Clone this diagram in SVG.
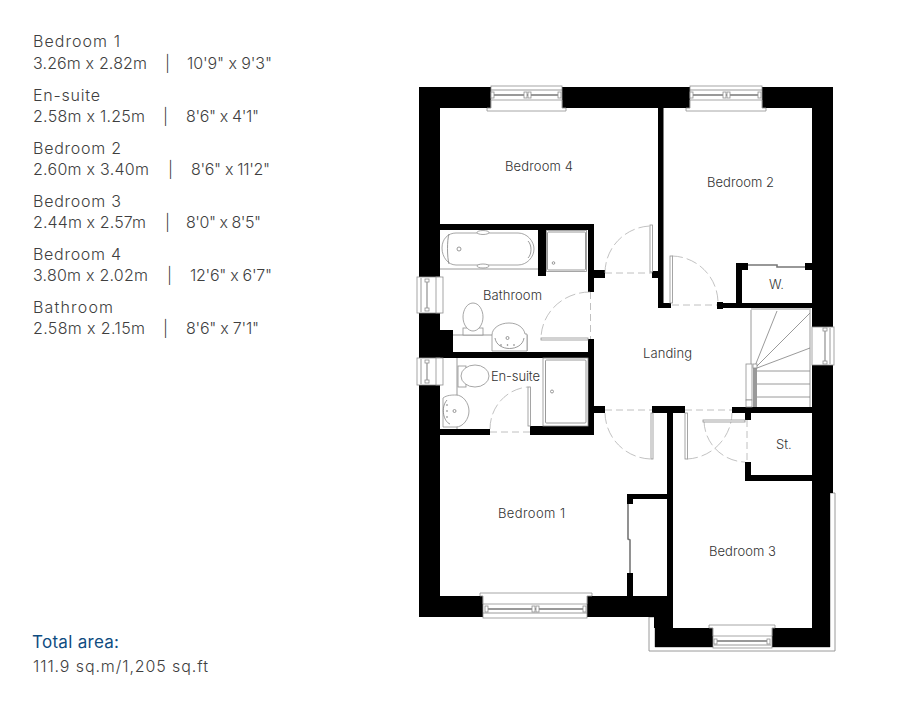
<svg xmlns="http://www.w3.org/2000/svg" width="899" height="704" viewBox="0 0 899 704">
<style>
text{font-family:"Inter","Open Sans","Liberation Sans",sans-serif;fill:#4a4a4a}
.s{font-size:16px;font-weight:300;fill:#3f3f3f}
.r{font-size:13px;fill:#333;font-weight:300}
.w{fill:#000;stroke:none}
.l{fill:#fff;stroke:#8f8f8f;stroke-width:.8}
.t{fill:none;stroke:#808080;stroke-width:.8}
.d{fill:none;stroke:#b0b0b0;stroke-width:.8;stroke-dasharray:7 4}
.a{fill:none;stroke:#a8a8a8;stroke-width:.7;stroke-dasharray:11 4}
.g{fill:#fff;stroke:#8f8f8f;stroke-width:.9}
.b{stroke:#777;stroke-width:1.600;fill:none}
</style>
<rect width="899" height="704" fill="#fff"/>
<g id="schedule">
<text class="s" x="33" y="47" textLength="87">Bedroom 1</text>
<text class="s" x="33" y="69" textLength="114">3.26m x 2.82m</text><text class="s" x="165" y="69">|</text><text class="s" x="187" y="69" textLength="85">10'9" x 9'3"</text>
<text class="s" x="33" y="101" textLength="67">En-suite</text>
<text class="s" x="33" y="122" textLength="112">2.58m x 1.25m</text><text class="s" x="163" y="122">|</text><text class="s" x="186" y="122" textLength="73">8'6" x 4'1"</text>
<text class="s" x="33" y="154" textLength="88">Bedroom 2</text>
<text class="s" x="33" y="175" textLength="116">2.60m x 3.40m</text><text class="s" x="168" y="175">|</text><text class="s" x="191" y="175" textLength="79">8'6" x 11'2"</text>
<text class="s" x="33" y="207" textLength="88">Bedroom 3</text>
<text class="s" x="33" y="228" textLength="113">2.44m x 2.57m</text><text class="s" x="165" y="228">|</text><text class="s" x="186" y="228" textLength="75">8'0" x 8'5"</text>
<text class="s" x="33" y="260" textLength="88">Bedroom 4</text>
<text class="s" x="33" y="281" textLength="115">3.80m x 2.02m</text><text class="s" x="167" y="281">|</text><text class="s" x="190" y="281" textLength="82">12'6" x 6'7"</text>
<text class="s" x="33" y="313" textLength="80">Bathroom</text>
<text class="s" x="33" y="334" textLength="112">2.58m x 2.15m</text><text class="s" x="163" y="334">|</text><text class="s" x="186" y="334" textLength="73">8'6" x 7'1"</text>
<text x="32" y="648" font-size="17" font-weight="400" style="fill:#0f4c81" textLength="87">Total area:</text>
<text class="s" x="33" y="672" textLength="175">111.9 sq.m/1,205 sq.ft</text>
</g>
<g id="walls">
<path class="g" d="M649 617V651H835V493H830V647H655V617Z"/>
<rect class="w" x="419" y="87" width="414" height="21"/>
<rect class="w" x="419" y="87" width="21" height="530"/>
<rect class="w" x="812" y="87" width="21" height="406"/>
<rect class="w" x="812" y="493" width="18" height="154"/>
<rect class="w" x="419" y="596" width="248" height="21"/>
<rect class="w" x="654" y="596" width="19" height="32"/>
<rect class="w" x="655" y="628" width="175" height="19"/>
<rect class="w" x="667" y="406" width="6" height="222"/>
<rect class="w" x="658" y="108" width="5.500" height="200"/>
<rect class="w" x="658" y="303" width="13" height="5"/>
<rect class="w" x="440" y="224" width="154" height="6"/>
<rect class="w" x="588" y="224" width="6" height="68"/>
<rect class="w" x="594" y="270" width="11" height="8"/>
<rect class="w" x="538" y="230" width="8" height="46"/>
<rect class="w" x="440" y="330" width="13" height="28"/>
<rect class="w" x="453" y="352" width="141" height="6"/>
<rect class="w" x="588" y="339" width="6" height="96"/>
<rect class="w" x="440" y="429" width="50" height="6"/>
<rect class="w" x="530" y="426" width="64" height="9"/>
<rect class="w" x="594" y="406" width="11" height="7"/>
<rect class="w" x="652" y="406" width="33" height="7"/>
<rect class="w" x="652" y="271" width="6" height="7"/>
<rect class="w" x="627" y="494" width="40" height="5"/>
<rect class="w" x="627" y="494" width="6" height="10"/>
<rect class="w" x="627" y="573" width="6" height="24"/>
<rect class="w" x="736" y="263" width="6" height="40"/>
<rect class="w" x="742" y="263" width="6" height="7"/>
<rect class="w" x="805" y="263" width="7" height="7"/>
<rect class="w" x="720" y="303" width="92" height="5"/>
<rect class="w" x="732" y="407" width="80" height="6"/>
<rect class="w" x="745" y="413" width="6" height="7"/>
<rect class="w" x="745" y="462" width="6" height="19"/>
<rect class="w" x="745" y="475" width="67" height="6"/>
<rect class="w" x="717" y="302" width="6" height="7"/>
</g>
<g id="windows">
<rect class="l" x="491" y="86" width="71" height="22"/><rect x="491.500" y="99" width="70" height="12" fill="#fff"/><path class="l" d="M487 108H491V100H562V108H566V111H487Z"/><path d="M493 95H560" stroke="#777" stroke-width="1.600"/><path class="t" d="M491 90H562"/>
<rect class="l" x="491" y="92" width="3" height="6"/><rect class="l" x="524" y="92" width="3" height="6"/><rect class="l" x="528" y="92" width="3" height="6"/><rect class="l" x="558" y="92" width="3" height="6"/>
<rect class="l" x="690" y="86" width="72" height="22"/><rect x="690.500" y="99" width="71" height="12" fill="#fff"/><path class="l" d="M686 108H690V100H762V108H766V111H686Z"/><path d="M692 95H760" stroke="#777" stroke-width="1.600"/><path class="t" d="M690 90H762"/>
<rect class="l" x="690" y="92" width="3" height="6"/><rect class="l" x="723" y="92" width="3" height="6"/><rect class="l" x="727" y="92" width="3" height="6"/><rect class="l" x="758" y="92" width="3" height="6"/>
<rect class="l" x="417" y="277" width="23" height="36"/><rect class="l" x="436" y="277" width="7" height="36"/><path d="M427 281V309" stroke="#999" stroke-width="1.300"/><path class="t" d="M421 278V312"/><rect class="l" x="425" y="279" width="4" height="3"/><rect class="l" x="425" y="308" width="4" height="3"/>
<rect class="l" x="417" y="358" width="23" height="27"/><rect class="l" x="436" y="358" width="7" height="27"/><path d="M427 362V381" stroke="#999" stroke-width="1.300"/><path class="t" d="M421 359V384"/><rect class="l" x="425" y="360" width="4" height="3"/><rect class="l" x="425" y="380" width="4" height="3"/>
<rect class="l" x="812" y="327" width="22" height="38"/><path d="M825 331V361" stroke="#999" stroke-width="1.300"/><path class="t" d="M830 328V364"/><rect class="l" x="823" y="328" width="4" height="3"/><rect class="l" x="823" y="361" width="4" height="3"/>
<rect class="l" x="483" y="596" width="104" height="22"/><path class="l" d="M480 596V593H592V596H587V604H483V596Z"/><path d="M486 609H584" stroke="#777" stroke-width="1.600"/><path class="t" d="M483 613H587"/>
<rect class="l" x="485" y="606" width="3" height="6"/><rect class="l" x="532" y="606" width="3" height="6"/><rect class="l" x="536" y="606" width="3" height="6"/><rect class="l" x="583" y="606" width="3" height="6"/>
<rect class="l" x="713" y="628" width="59" height="20"/><path class="l" d="M709 628V625H775V628H772V636H713V628Z"/><path d="M716 641H769" stroke="#777" stroke-width="1.600"/><path class="t" d="M714 645H771"/>
<rect class="l" x="714" y="639" width="3" height="5"/><rect class="l" x="767" y="639" width="3" height="5"/>
</g>
<g id="doors">
<path class="d" d="M605 273H652M672 305H717M590.500 292V339M490 432H530M605 410H652M685 410H732M747 420V462"/>
<path class="a" d="M605 273A47 47 0 0 1 650 226M672 256A47 47 0 0 1 718 302M590 292A49 47 0 0 0 541 338M490 429A41 42 0 0 1 528 387M605 413A47 47 0 0 0 651 459M687 459A47 47 0 0 0 732 413M704 421A42 42 0 0 0 745 462"/>
<rect class="l" x="650" y="225" width="2.500" height="47"/>
<rect class="l" x="670" y="256" width="2.500" height="47"/>
<rect class="l" x="541" y="338" width="47" height="2"/>
<rect class="l" x="528" y="387" width="2.500" height="39"/>
<rect class="l" x="651" y="413" width="2" height="46"/>
<rect class="l" x="685" y="413" width="2.500" height="46"/>
<rect class="l" x="703" y="420" width="42" height="2"/>
<path class="b" d="M748 265H777V267H805M628 504V539L630 540V573"/>
</g>
<g id="stairs">
<path class="t" d="M751 309H811M751 310V364M810 310V407M757 371H810M757 384H810M757 397H810M755 366L777 311M756 367L810 313M757 368L810 348"/>
<rect class="l" x="746" y="364" width="6" height="36"/><rect class="l" x="746" y="400" width="6" height="7"/>
<rect x="753" y="368" width="4" height="39" fill="#9a9a9a"/><rect class="l" x="753" y="364" width="4" height="4"/>
</g>
<g id="fixtures">
<path class="t" d="M440 269H538M453 335H492M527 335V351M457 358V429"/>
<path class="l" d="M442 248C442 239 448 233 456 233H518C527 233 534 241 534 249S527 265 518 265H456C448 265 442 257 442 248Z"/>
<path class="t" d="M449 234C447 240 447 257 449 264M528 241C532 245 532 254 528 258"/>
<ellipse class="l" cx="483" cy="232.500" rx="6" ry="2"/><ellipse class="l" cx="483" cy="266" rx="6" ry="2"/>
<circle class="t" cx="459" cy="249" r="2"/>
<rect class="l" x="546.500" y="230.500" width="40" height="41"/><rect class="t" x="547.500" y="232" width="38" height="38" rx="1"/><circle class="t" cx="553.500" cy="263" r="1.300"/>
<rect class="l" x="463" y="328" width="20" height="7"/><path class="l" d="M463 317C463 310 467 303 473 303S483 310 483 317C483 325 478 331 473 331S463 325 463 317Z"/>
<path class="l" d="M492 351V335C492 328 500 323 509 323S524 328 525 334H527V351Z"/><path class="t" d="M495 338C497 352 522 352 524 338"/><circle class="t" cx="507.500" cy="338" r="1.500"/><circle class="t" cx="501" cy="345" r=".5"/><circle class="t" cx="507.500" cy="345" r=".5"/><circle class="t" cx="514" cy="345" r=".5"/>
<rect class="l" x="458" y="366" width="8" height="21"/><ellipse class="l" cx="475" cy="376" rx="14" ry="11"/>
<path class="l" d="M443 427V398C447 395 452 395 456 395C463 395 469 403 469 411S463 427 456 427Z"/><path class="t" d="M447 400C440 408 444 422 450 424"/><circle class="t" cx="454.500" cy="411" r="1.500"/><circle class="t" cx="447" cy="405" r=".5"/><circle class="t" cx="447" cy="411" r=".5"/><circle class="t" cx="447" cy="417" r=".5"/>
<rect class="l" x="543" y="358" width="45" height="68"/><rect class="t" x="545.500" y="360" width="40.500" height="63" rx="1"/><circle class="t" cx="552" cy="391.500" r="1.500"/>
</g>
<g id="labels">
<text class="r" x="505" y="171" textLength="68">Bedroom 4</text>
<text class="r" x="707" y="187" textLength="67">Bedroom 2</text>
<text class="r" x="483" y="300" textLength="59">Bathroom</text>
<text class="r" x="491" y="381" textLength="49">En-suite</text>
<text class="r" x="643" y="358" textLength="49">Landing</text>
<text class="r" x="769" y="289">W.</text>
<text class="r" x="776" y="449">St.</text>
<text class="r" x="498" y="518" textLength="67">Bedroom 1</text>
<text class="r" x="709" y="556" textLength="67">Bedroom 3</text>
</g>
</svg>
